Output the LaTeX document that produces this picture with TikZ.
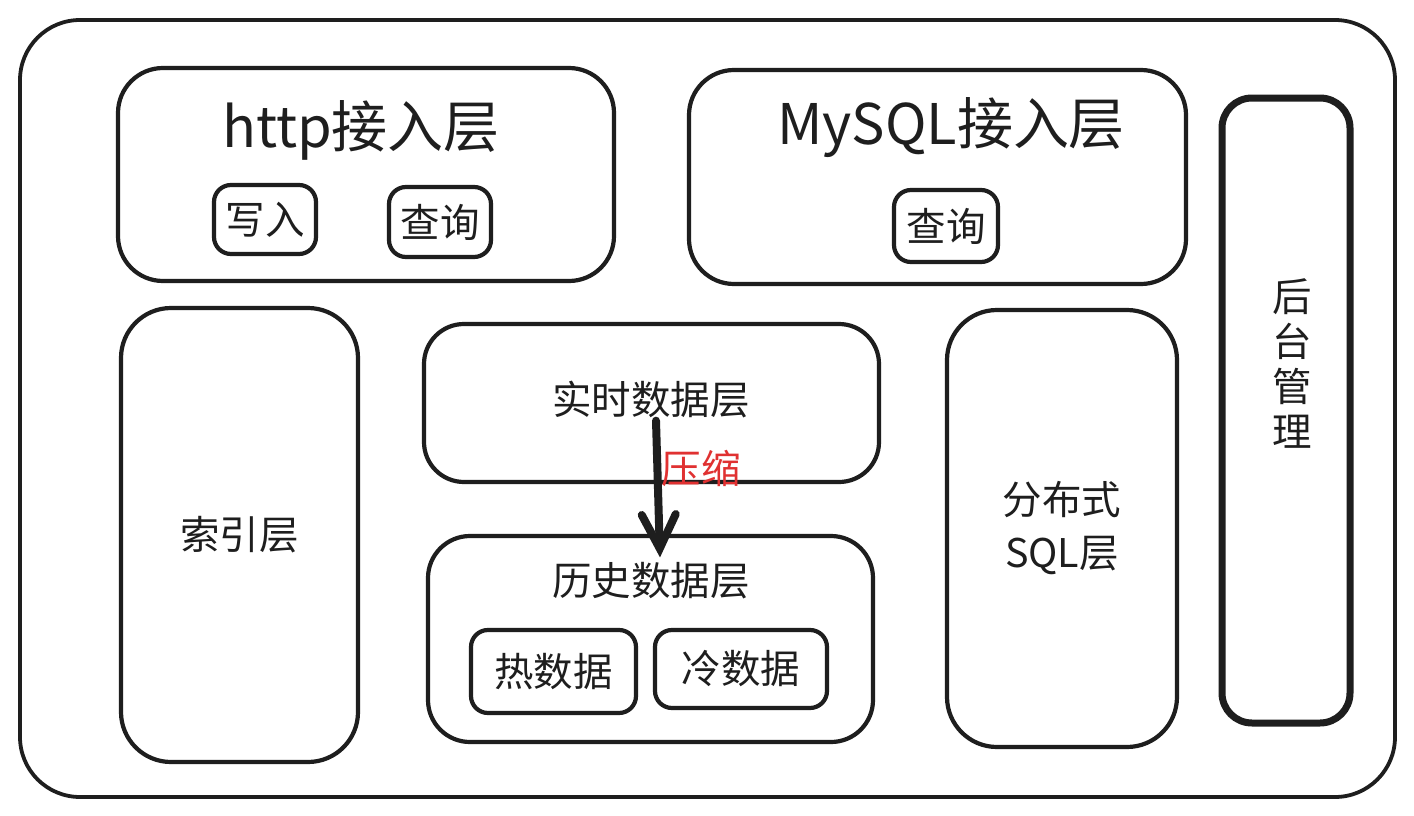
\documentclass[tikz,border=0pt]{standalone}
\usepackage{fontspec}
\setmainfont{Noto Sans CJK SC}
\usetikzlibrary{arrows.meta}
\definecolor{ink}{HTML}{1E1E1E}
\definecolor{accent}{HTML}{E03131}
\tikzset{
  box/.style={draw=ink, line width=4.2, rounded corners=#1, inner sep=0, fill=white},
  box/.default=45,
  label/.style={text=ink, inner sep=0, font=\fontsize{39.5}{45}\selectfont},
  title/.style={text=ink, inner sep=0, font=\fontsize{56}{60}\selectfont},
}
\begin{document}
\begin{tikzpicture}[x=1pt, y=-1pt]
\useasboundingbox (0,0) rectangle (1414,816);

% outer frame
\node[box=60, line width=3.8, minimum width=1375, minimum height=777] (frame) at (707.5,408.5) {};

% http access layer
\node[box=45, minimum width=496, minimum height=213] (http) at (366,174.5) {};
\node[title] (httptitle) at (361,130) {http接入层};
\node[box=17, minimum width=102, minimum height=69, label] (write) at (265,219.5) {写入};
\node[box=17, minimum width=102, minimum height=70, label] (query1) at (440,222) {查询};

% MySQL access layer
\node[box=45, minimum width=497, minimum height=214] (mysql) at (937.5,177) {};
\node[title] (mysqltitle) at (951,128) {MySQL接入层};
\node[box=17, minimum width=104, minimum height=72, label] (query2) at (946,226) {查询};

% admin column
\node[box=30, line width=7, minimum width=128, minimum height=625] (admin) at (1286,410.5) {};
\node[label, align=center] (admintext) at (1292,363) {后\\台\\管\\理};

% index layer
\node[box=50, minimum width=237, minimum height=454, label] (index) at (239.5,535) {索引层};

% realtime data layer
\node[box=40, minimum width=455, minimum height=158] (rt) at (651.5,403) {};
\node[label] (rtlabel) at (651,400) {实时数据层};

% history data layer
\node[box=42, minimum width=445, minimum height=206] (hist) at (650.5,639) {};
\node[label] (histlabel) at (651,581) {历史数据层};
\node[box=17, minimum width=165, minimum height=83, label] (hot) at (553.5,671.5) {热数据};
\node[box=17, minimum width=172, minimum height=78, label] (cold) at (741,669) {冷数据};

% distributed SQL layer
\node[box=50, minimum width=230, minimum height=437, label, align=center] (dsql) at (1062,528.5) {分布式\\[8pt]SQL层};

% compaction arrow
\draw[draw=ink, line width=8, line cap=round,
      -{Straight Barb[length=34, width=34, line cap=round]}]
  ([xshift=5pt, yshift=-2pt]rtlabel.south) -- ([xshift=9pt, yshift=5pt]histlabel.north);
\node[label, text=accent] (compress) at (701,468) {压缩};
\end{tikzpicture}
\end{document}
